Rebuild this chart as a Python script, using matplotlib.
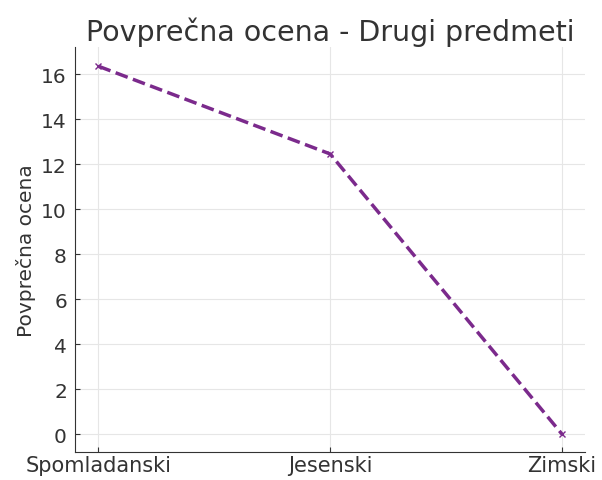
import numpy as np
import matplotlib.pyplot as plt

semesters = ["Spomladanski", "Jesenski", "Zimski"]
avg_grade = [16.35, 12.45, 0.0]

fig = plt.figure(figsize=(6.02, 4.81), dpi=100)
ax = fig.add_axes([0.125, 0.058, 0.847, 0.842])

ax.plot(semesters, avg_grade, linestyle="--", marker="x", markersize=4,
        linewidth=2.5, color="#7b2a8c")

ax.set_title("Povprečna ocena - Drugi predmeti", fontsize=20.5, color="#333333", pad=5)
ax.set_ylabel("Povprečna ocena", fontsize=14.5, color="#333333", labelpad=4)
ax.set_yticks(np.arange(0, 17, 2))
ax.set_ylim(-0.8, 17.2)
ax.tick_params(axis="y", labelsize=14.5, colors="#333333", direction="in", pad=6)
ax.tick_params(axis="x", labelsize=15, colors="#333333", direction="in", pad=2)
ax.grid(True, color="#e6e6e6", linewidth=0.8)
ax.set_axisbelow(True)
for s in ["top", "right"]:
    ax.spines[s].set_visible(False)
for s in ["left", "bottom"]:
    ax.spines[s].set_color("#333333")

fig.savefig("out.png", dpi=100)
